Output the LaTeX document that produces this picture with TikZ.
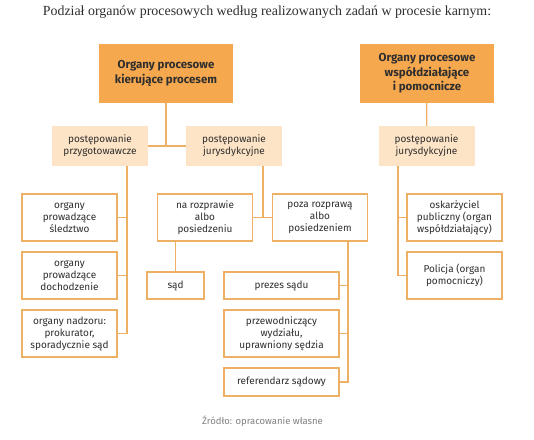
\documentclass[tikz,border=0pt]{standalone}
\usepackage{fontspec}
\setmainfont{Fira Sans}
\newfontfamily\titlefont{Liberation Serif}
\usepackage{xcolor}

\definecolor{orgdark}{HTML}{F6A84E}
\definecolor{orglight}{HTML}{FDE4C6}
\definecolor{orgline}{HTML}{EDB065}
\definecolor{txtgray}{HTML}{2E2E2E}

\tikzset{
  head/.style={fill=orgdark, minimum width=134pt, minimum height=59pt, inner sep=0pt, align=center,
    text=txtgray, font=\fontsize{11.5}{14.5}\selectfont\bfseries},
  phase/.style={fill=orglight, minimum width=96pt, minimum height=40pt, inner sep=0pt, align=center,
    text=txtgray, font=\fontsize{10}{12}\selectfont},
  organ/.style={draw=orgline, line width=1.2pt, fill=white, minimum width=95pt, minimum height=47pt,
    inner sep=0pt, align=center, text=txtgray, font=\fontsize{10}{12}\selectfont},
  link/.style={draw=orgline, line width=1.2pt}
}

\begin{document}
\begin{tikzpicture}[x=1pt, y=-1pt]
\useasboundingbox (0,0) rectangle (534,439);

% 标题
\node[font=\titlefont\fontsize{13.9}{16}\selectfont, text=txtgray] (title) at (267,12)
  {Podział organów procesowych według realizowanych zadań w procesie karnym:};

% 两个主框
\node[head] (lead) at (166,73.5) {Organy procesowe\\kierujące procesem};
\node[head] (coop) at (427,73.5) {Organy procesowe\\współdziałające\\i pomocnicze};

% 程序阶段
\node[phase] (prep) at (100,146) {postępowanie\\przygotowawcze};
\node[phase] (jurL) at (234,146) {postępowanie\\jurysdykcyjne};
\node[phase] (jurR) at (426.5,146) {postępowanie\\jurysdykcyjne};

% 左列
\node[organ] (sled) at (69.5,217.5) {organy\\prowadzące\\śledztwo};
\node[organ] (doch) at (69.5,275.5) {organy\\prowadzące\\dochodzenie};
\node[organ] (nadz) at (69.5,333.5) {organy nadzoru:\\prokurator,\\sporadycznie sąd};

% 中列
\node[organ] (narozp) at (205,217.5) {na rozprawie\\albo\\posiedzeniu};
\node[organ] (poza) at (320,217.5) {poza rozprawą\\albo\\posiedzeniem};
\node[organ, minimum width=57pt, minimum height=27pt] (sad) at (175.5,285.5) {sąd};
\node[organ, minimum width=115pt, minimum height=27pt] (prezes) at (281.5,285.5) {prezes sądu};
\node[organ, minimum width=115pt] (przew) at (281.5,333.5) {przewodniczący\\wydziału,\\uprawniony sędzia};
\node[organ, minimum width=115pt, minimum height=28pt] (refer) at (281.5,382) {referendarz sądowy};

% 右列
\node[organ] (oskar) at (454.5,217.5) {oskarżyciel\\publiczny (organ\\współdziałający)};
\node[organ] (polic) at (454.5,275.5) {Policja (organ\\pomocniczy)};

% 连线
\draw[link] (prep) -- (jurL);
\draw[link] (lead) -- (lead |- prep.east);
\draw[link] (coop) -- (jurR);
\draw[link] ([xshift=27pt]prep.south) |- (nadz.east);
\draw[link] ([xshift=27pt]prep.south |- sled.east) -- (sled.east);
\draw[link] ([xshift=27pt]prep.south |- doch.east) -- (doch.east);
\draw[link] (narozp) -- (poza);
\draw[link] ([xshift=29pt]jurL.south) -- ([xshift=29pt]jurL.south |- narozp.east);
\draw[link] (sad.north |- narozp.south) -- (sad.north);
\draw[link] ([xshift=28pt]poza.south) |- (refer.east);
\draw[link] ([xshift=28pt]poza.south |- prezes.east) -- (prezes.east);
\draw[link] ([xshift=28pt]poza.south |- przew.east) -- (przew.east);
\draw[link] ([xshift=-28.5pt]jurR.south) |- (polic.west);
\draw[link] ([xshift=-28.5pt]jurR.south |- oskar.west) -- (oskar.west);

% 来源
\node[text=gray, font=\fontsize{9.5}{11}\selectfont] (src) at (262.5,421) {Źródło: opracowanie własne};
\end{tikzpicture}
\end{document}
